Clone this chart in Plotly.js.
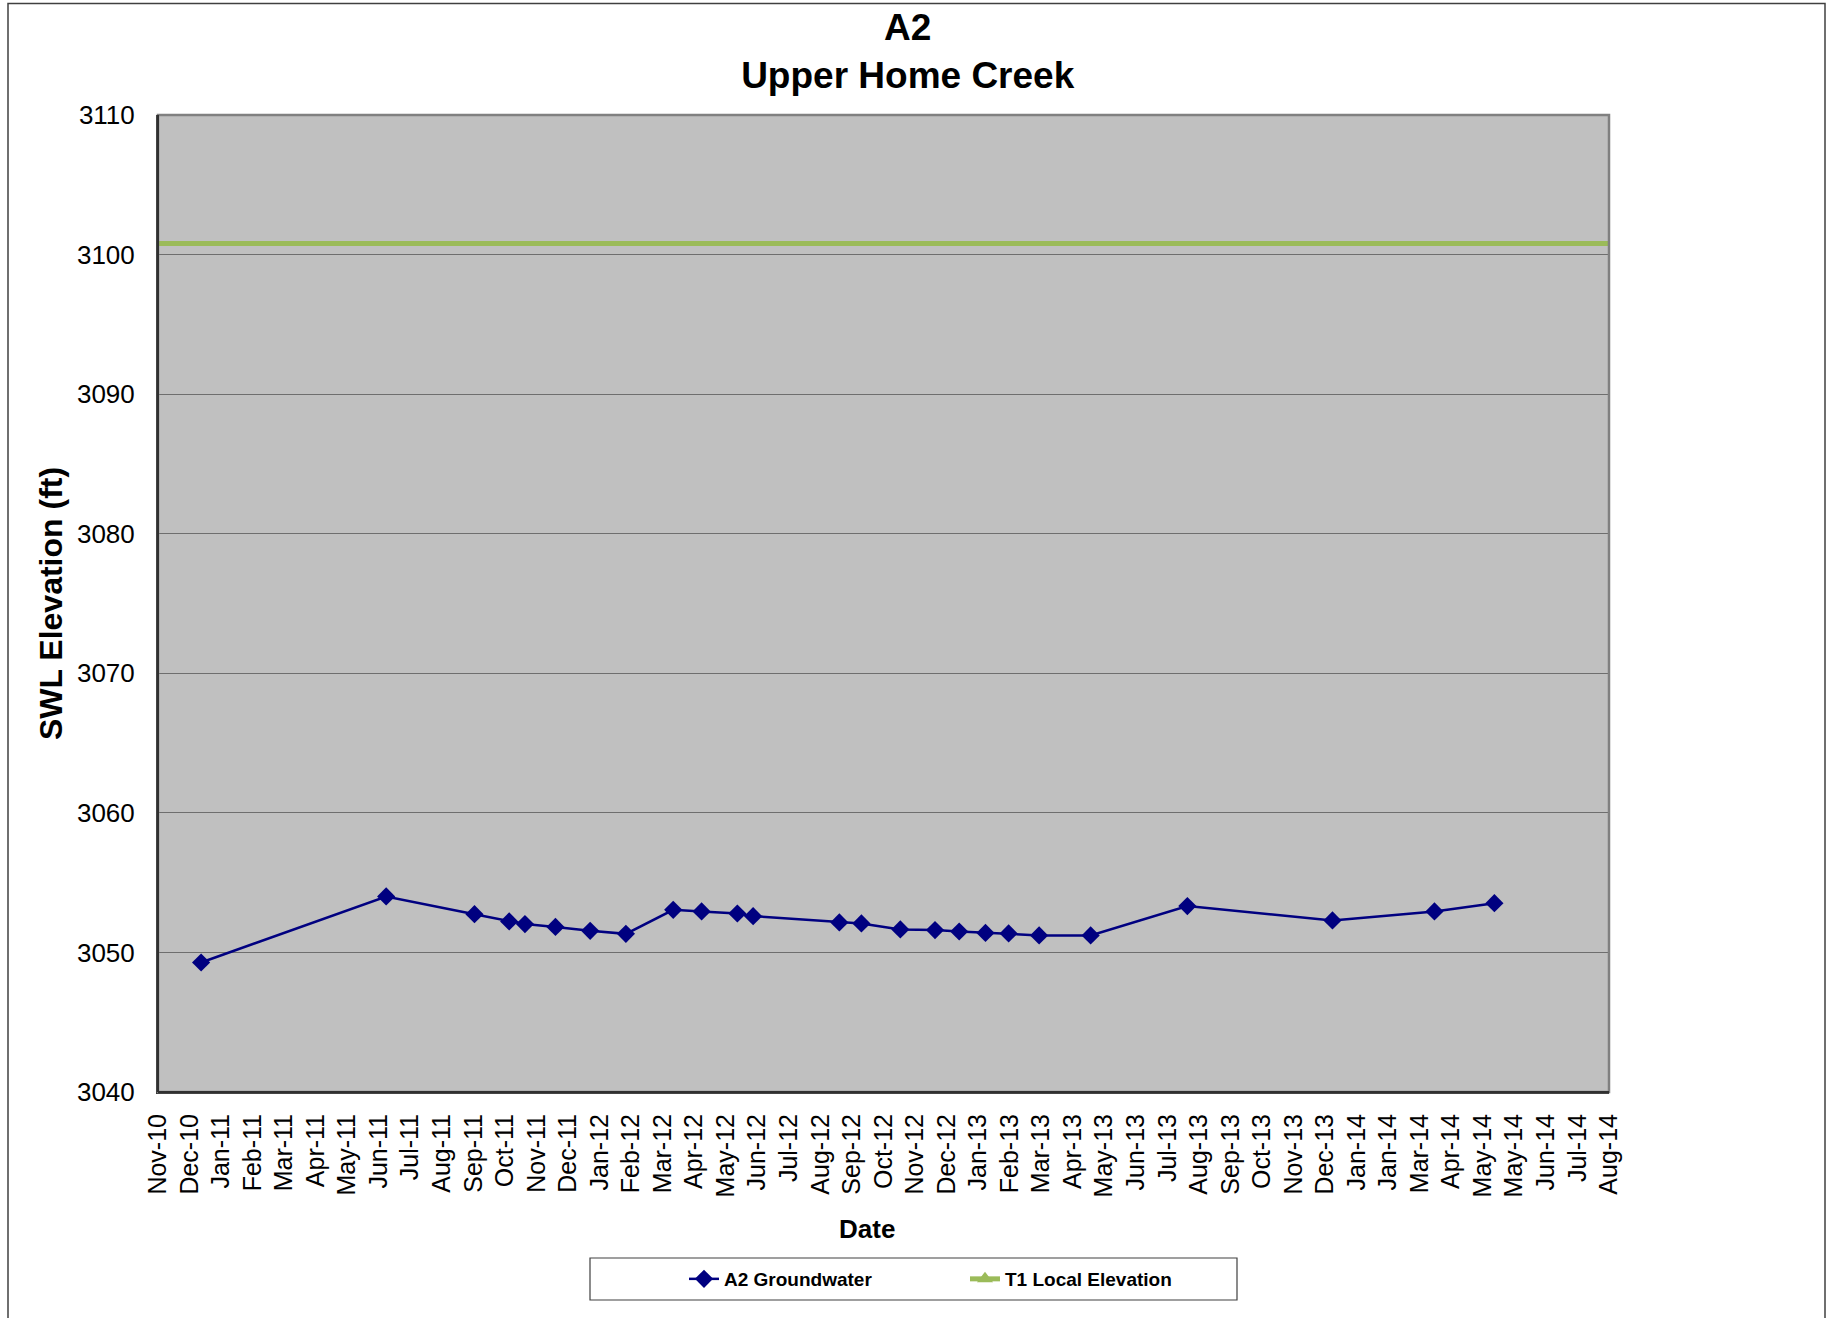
<!DOCTYPE html>
<html>
<head>
<meta charset="utf-8">
<script src="https://cdn.plot.ly/plotly-3.0.1.min.js"></script>
<style>
  html, body { margin: 0; padding: 0; background: #ffffff; }
  #chart { width: 1827px; height: 1318px; }
</style>
</head>
<body>
<div id="chart"></div>
<script>
// ---- Data ----
const gwDates = ['2010-12-29','2011-06-23','2011-09-15','2011-10-18','2011-11-02','2011-12-01',
  '2012-01-03','2012-02-06','2012-03-22','2012-04-18','2012-05-22','2012-06-06','2012-08-27',
  '2012-09-17','2012-10-24','2012-11-26','2012-12-19','2013-01-13','2013-02-04','2013-03-05',
  '2013-04-23','2013-07-24','2013-12-09','2014-03-16','2014-05-12'];
const gwValues = [3049.28, 3054.01, 3052.74, 3052.22, 3052.03, 3051.83,
  3051.55, 3051.33, 3053.05, 3052.94, 3052.79, 3052.60, 3052.15,
  3052.08, 3051.65, 3051.60, 3051.50, 3051.40, 3051.36, 3051.22,
  3051.22, 3053.32, 3052.29, 3052.94, 3053.53];

const t1Dates = ['2010-11-18', '2014-08-29'];
const t1Values = [3100.8, 3100.8];

const xStart = '2010-11-18';
const xEnd = '2014-08-29';
const tickStepDays = 30;
const xTickLabels = ['Nov-10','Dec-10','Jan-11','Feb-11','Mar-11','Apr-11','May-11','Jun-11',
  'Jul-11','Aug-11','Sep-11','Oct-11','Nov-11','Dec-11','Jan-12','Feb-12','Mar-12','Apr-12',
  'May-12','Jun-12','Jul-12','Aug-12','Sep-12','Oct-12','Nov-12','Dec-12','Jan-13','Feb-13',
  'Mar-13','Apr-13','May-13','Jun-13','Jul-13','Aug-13','Sep-13','Oct-13','Nov-13','Dec-13',
  'Jan-14','Jan-14','Mar-14','Apr-14','May-14','May-14','Jun-14','Jul-14','Aug-14'];

const yRange = [3040, 3110];
const yStep = 10;

// tick positions every 30 days from the axis start
const DAY = 86400000;
const t0 = Date.parse(xStart + 'T00:00:00Z');
const xTickVals = xTickLabels.map((_, i) => {
  const d = new Date(t0 + i * tickStepDays * DAY);
  return d.toISOString().slice(0, 10);
});

const FONT = '"Liberation Sans", Arial, sans-serif';

const traces = [
  {
    name: 'A2 Groundwater',
    x: gwDates, y: gwValues,
    type: 'scatter', mode: 'lines+markers',
    line: { color: '#000080', width: 2.5 },
    marker: { symbol: 'diamond', size: 14, color: '#000080' },
    cliponaxis: false
  },
  {
    name: 'T1 Local Elevation',
    x: t1Dates, y: t1Values,
    type: 'scatter', mode: 'lines+markers',
    line: { color: '#9BBB59', width: 5 },
    marker: { symbol: 'triangle-up', size: 14, color: '#9BBB59' },
    selectedpoints: [],
    unselected: { marker: { opacity: 0 } },
    cliponaxis: true
  }
];

// plot area in pixels
const L = 158, R = 1609, T = 115, B = 1092;
const W = 1827, H = 1318;
const pw = R - L, ph = B - T;
const px = v => (v - L) / pw;
const py = v => (B - v) / ph;

const layout = {
  width: W, height: H,
  margin: { l: L, r: W - R, t: T, b: H - B, pad: 0 },
  paper_bgcolor: '#ffffff',
  plot_bgcolor: '#C0C0C0',
  font: { family: FONT, color: '#000000' },
  showlegend: true,
  title: {
    text: '<b>A2</b><br><b>Upper Home Creek</b>',
    font: { family: FONT, size: 37, color: '#000000' },
    x: 907.7 / W, xanchor: 'center', xref: 'container',
    y: 1 - 40 / H, yanchor: 'top', yref: 'container'
  },
  xaxis: {
    type: 'date',
    range: [xStart, xEnd],
    tickmode: 'array',
    tickvals: xTickVals,
    ticktext: xTickLabels,
    tickangle: -90,
    tickfont: { family: FONT, size: 25, color: '#000000' },
    ticks: '',
    ticklabelstandoff: 10,
    showgrid: false,
    zeroline: false,
    showline: true,
    linecolor: '#303030',
    linewidth: 2
  },
  yaxis: {
    range: yRange,
    dtick: yStep,
    tick0: yRange[0],
    tickfont: { family: FONT, size: 26, color: '#000000' },
    ticks: '',
    ticklabelstandoff: 16,
    showgrid: true,
    gridcolor: '#6E6E6E',
    gridwidth: 1,
    zeroline: false,
    showline: true,
    linecolor: '#303030',
    linewidth: 2,
    title: { text: '<b>SWL Elevation (ft)</b>', font: { family: FONT, size: 32, color: '#000000' }, standoff: 5 }
  },
  annotations: [
    { text: '<b>Date</b>', xref: 'paper', yref: 'paper', x: px(867), y: py(1229),
      xanchor: 'center', yanchor: 'middle', showarrow: false,
      font: { family: FONT, size: 26, color: '#000000' } }
  ],
  legend: {
    orientation: 'h',
    x: px(684), xanchor: 'left',
    y: py(1279), yanchor: 'middle',
    bgcolor: 'rgba(0,0,0,0)',
    borderwidth: 0,
    font: { family: FONT, size: 19, color: '#000000', weight: 'bold' },
    entrywidth: 236,
    entrywidthmode: 'pixels',
    traceorder: 'normal'
  },
  shapes: [
    // plot-area border (top/right grey)
    { type: 'rect', xref: 'paper', yref: 'paper', x0: 0, x1: 1, y0: 0, y1: 1,
      line: { color: '#808080', width: 2.5 }, fillcolor: 'rgba(0,0,0,0)', layer: 'above' },
    // left & bottom axis lines darker
    { type: 'line', xref: 'paper', yref: 'paper', x0: 0, x1: 0, y0: 0, y1: 1,
      line: { color: '#303030', width: 2 }, layer: 'above' },
    { type: 'line', xref: 'paper', yref: 'paper', x0: 0, x1: 1, y0: 0, y1: 0,
      line: { color: '#303030', width: 2 }, layer: 'above' },
    // legend box
    { type: 'rect', xref: 'paper', yref: 'paper',
      x0: px(590), x1: px(1237), y0: py(1300), y1: py(1258),
      line: { color: '#404040', width: 1.2 }, fillcolor: '#ffffff', layer: 'below' },
    // chart-area outer border
    { type: 'rect', xref: 'paper', yref: 'paper',
      x0: px(8), x1: px(1825), y0: py(1330), y1: py(3.5),
      line: { color: '#404040', width: 1.5 }, fillcolor: 'rgba(0,0,0,0)', layer: 'below' }
  ]
};

Plotly.newPlot('chart', traces, layout, { displayModeBar: false, staticPlot: true });
</script>
</body>
</html>
